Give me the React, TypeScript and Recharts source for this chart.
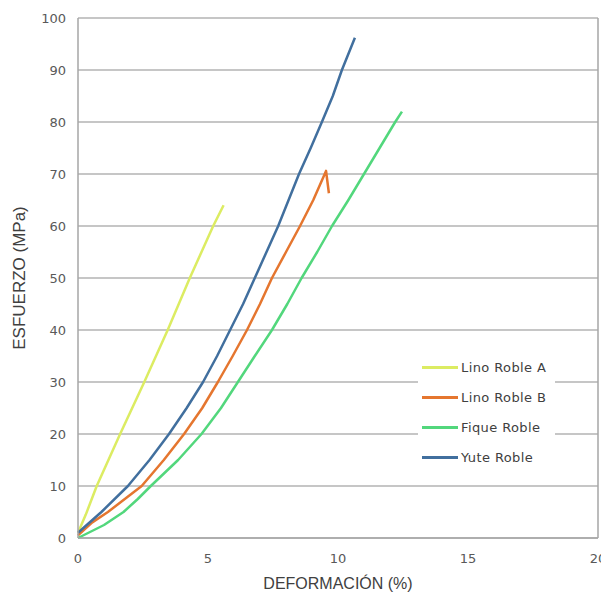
import React from 'react'
import { LineChart, Line, XAxis, YAxis, CartesianGrid, Legend, ReferenceLine } from 'recharts'

const xTicks = [0, 5, 10, 15, 20]
const yTicks = [0, 10, 20, 30, 40, 50, 60, 70, 80, 90, 100]

// deformación (%) / esfuerzo (MPa)
const linoAX = [0, 0.3, 0.72, 1.62, 2.55, 3.45, 4.3, 5.2, 5.6]
const linoAY = [1, 4.5, 10, 20, 30, 40, 50, 60, 64]

const linoBX = [0, 0.55, 1.15, 1.8, 2.45, 3.3, 4.08, 4.78, 5.38, 5.95, 6.5, 7.0, 7.46, 8.0, 8.54, 9.05, 9.54, 9.65]
const linoBY = [0.5, 3, 5, 7.5, 10, 15, 20, 25, 30, 35, 40, 45, 50, 55, 60, 65, 70.6, 66.3]

const fiqueX = [0, 1.0, 1.75, 2.3, 2.8, 3.85, 4.75, 5.5, 6.15, 6.8, 7.46, 8.05, 8.6, 9.2, 9.77, 10.4, 11.0, 11.6, 12.2, 12.46]
const fiqueY = [0, 2.5, 5, 7.5, 10, 15, 20, 25, 30, 35, 40, 45, 50, 55, 60, 65, 70, 75, 80, 82]

const yuteX = [0, 0.9, 1.92, 2.75, 3.5, 4.18, 4.81, 5.35, 5.85, 6.35, 6.8, 7.25, 7.7, 8.1, 8.5, 8.95, 9.38, 9.8, 10.15, 10.65]
const yuteY = [1, 5, 10, 15, 20, 25, 30, 35, 40, 45, 50, 55, 60, 65, 70, 75, 80, 85, 90, 96.2]

const toPoints = (xs: number[], ys: number[]) => xs.map((x, i) => ({ x, y: ys[i] }))

const series = [
    { name: 'Lino Roble A', color: '#dcec62', data: toPoints(linoAX, linoAY) },
    { name: 'Lino Roble B', color: '#e5762f', data: toPoints(linoBX, linoBY) },
    { name: 'Fique Roble', color: '#52d77c', data: toPoints(fiqueX, fiqueY) },
    { name: 'Yute Roble', color: '#416f9e', data: toPoints(yuteX, yuteY) },
]

const font = '"DejaVu Sans", Verdana, sans-serif'
const titleFont = '"Liberation Sans", Arial, sans-serif'

const LegendBox = () => (
    <div style={{ background: '#fff', width: 137, padding: '7px 0', fontFamily: font, fontSize: 13, letterSpacing: 0.4, color: '#404040' }}>
        {series.map(s => (
            <div key={s.name} style={{ display: 'flex', alignItems: 'center', height: 30, whiteSpace: 'nowrap' }}>
                <div style={{ width: 36, height: 3, background: s.color, marginLeft: 4, marginRight: 3 }} />
                <span>{s.name}</span>
            </div>
        ))}
    </div>
)

export default function App() {
    return (
        <LineChart width={601} height={585} margin={{ top: 10, right: 11, left: 0, bottom: 0 }} style={{ overflow: 'visible' }}>
            <CartesianGrid vertical={false} stroke="#b3b3b3" strokeWidth={1.5} />
            <XAxis
                type="number"
                dataKey="x"
                domain={[0, 20]}
                ticks={xTicks}
                height={55}
                tickSize={0}
                tickMargin={16}
                stroke="#a6a6a6"
                strokeWidth={1.5}
                tick={{ fill: '#595959', fontSize: 13, fontFamily: font }}
                label={{ value: 'DEFORMACIÓN (%)', position: 'insideBottom', offset: 4, fill: '#404040', fontSize: 16, fontFamily: titleFont }}
            />
            <YAxis
                type="number"
                domain={[0, 100]}
                ticks={yTicks}
                width={70}
                tickSize={0}
                tickMargin={12}
                stroke="#a6a6a6"
                strokeWidth={1.5}
                tick={{ fill: '#595959', fontSize: 13, fontFamily: font }}
                label={{ value: 'ESFUERZO (MPa)', angle: -90, position: 'insideLeft', offset: 11, fill: '#404040', fontSize: 17, fontFamily: titleFont, style: { textAnchor: 'middle' } }}
            />
            <ReferenceLine x={20} stroke="#a6a6a6" strokeWidth={1.5} />
            <Legend
                layout="vertical"
                align="center"
                verticalAlign="middle"
                content={<LegendBox />}
                wrapperStyle={{ left: 410, top: 337, width: 137 }}
            />
            {series.map(s => (
                <Line
                    key={s.name}
                    name={s.name}
                    data={s.data}
                    dataKey="y"
                    type="linear"
                    stroke={s.color}
                    strokeWidth={2.5}
                    strokeLinejoin="round"
                    dot={false}
                    isAnimationActive={false}
                />
            ))}
        </LineChart>
    )
}
